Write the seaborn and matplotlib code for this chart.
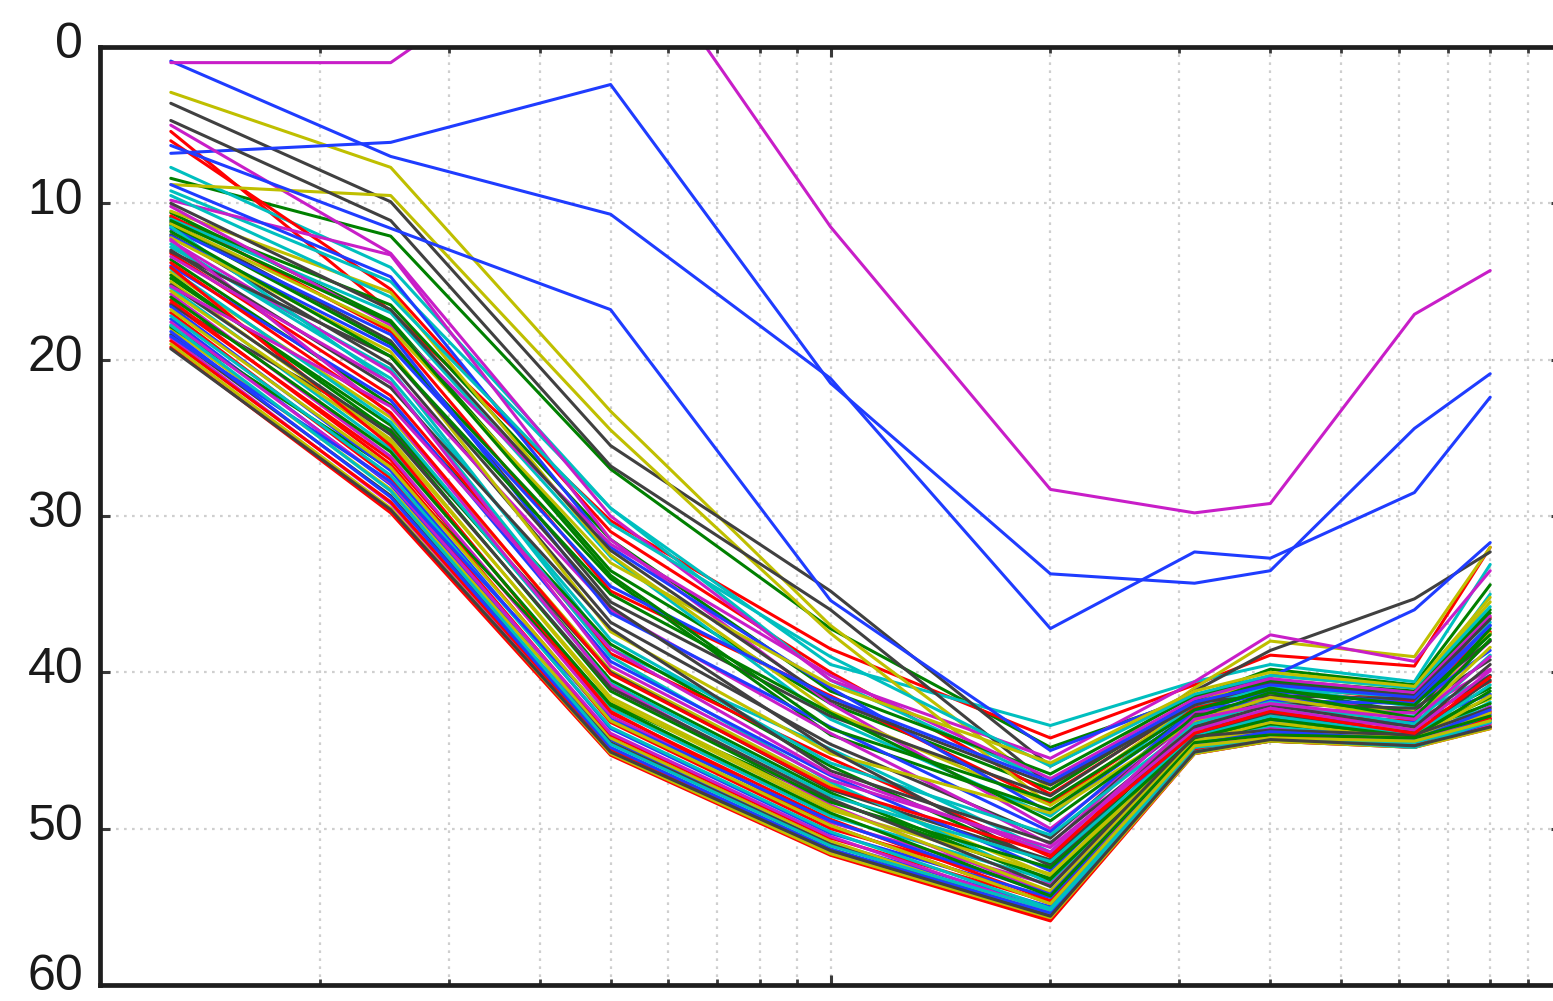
import matplotlib
matplotlib.use("Agg")
import matplotlib.pyplot as plt
import matplotlib.transforms as mtransforms
from matplotlib.ticker import LogLocator, NullFormatter, FixedLocator
import pandas as pd
import seaborn as sns

# ---------------- data ----------------
freqs = [1.25, 2.5, 5, 10, 20, 31.5, 40, 63, 80]
y_ticks = [0, 10, 20, 30, 40, 50, 60]

# distinct curves (plot order matters for the colour cycle)
blue_a      = [0.9, 7.0, 10.7, 21.2, 37.2, 32.3, 32.7, 28.5, 22.4]
green_hi    = [8.4, 12.1, 27.0, 37.2, 44.8, 41.6, 39.8, 40.8, 34.4]
red_hi      = [5.4, 16.9, 30.3, 38.5, 44.2, 40.8, 38.9, 39.6, 32.0]
cyan_hi     = [7.7, 14.1, 29.5, 39.5, 43.4, 40.6, 39.5, 40.6, 33.1]
magenta_top = [1.0, 1.0, -8.8, 11.5, 28.3, 29.8, 29.2, 17.1, 14.3]
yellow_hi   = [2.9, 7.7, 23.3, 37.0, 47.5, 41.0, 38.0, 39.0, 32.0]
grey_hi     = [3.6, 9.9, 25.5, 34.8, 46.0, 41.2, 38.6, 35.3, 32.3]
blue_b      = [6.8, 6.1, 2.4, 21.5, 33.7, 34.3, 33.5, 24.4, 20.9]
green_2     = [10.6, 17.5, 33.5, 42.0, 47.5, 41.8, 40.6, 41.4, 36.2]
red_2       = [6.0, 15.5, 31.0, 40.0, 47.8, 42.0, 40.8, 41.8, 36.5]
cyan_2      = [9.2, 15.0, 29.5, 40.5, 47.0, 42.2, 41.0, 41.6, 35.0]
magenta_hi  = [5.0, 13.2, 30.0, 40.5, 45.5, 40.6, 37.6, 39.3, 33.5]
yellow_2    = [8.8, 9.5, 24.5, 37.5, 48.5, 42.0, 40.2, 41.0, 35.5]
grey_2      = [4.7, 11.1, 26.8, 36.0, 47.2, 42.0, 40.8, 41.5, 37.5]
blue_c      = [6.3, 11.6, 16.8, 35.4, 45.0, 41.5, 40.3, 36.0, 31.7]
green_3     = [10.9, 16.5, 31.5, 41.2, 46.5, 41.5, 40.5, 41.2, 36.0]
red_3       = [10.8, 18.2, 34.8, 41.5, 48.4, 42.3, 41.2, 41.9, 37.4]
cyan_3      = [11.0, 17.0, 32.6, 43.0, 49.2, 42.0, 40.9, 42.2, 36.8]
magenta_3   = [9.8, 13.3, 31.5, 42.0, 50.0, 43.0, 41.5, 42.5, 38.0]
yellow_3    = [10.5, 15.7, 32.5, 42.5, 48.5, 42.8, 41.8, 42.5, 37.5]
grey_3      = [11.2, 18.8, 35.5, 42.8, 47.9, 41.9, 41.5, 41.7, 38.0]
blue_d      = [8.8, 14.7, 32.0, 41.0, 49.0, 42.5, 41.2, 42.0, 37.0]

# dense band of curves
band_a = [
    [11.4, 19.0, 34.0, 44.0, 48.8, 42.6, 41.0, 42.6, 37.2],
    [16.4, 26.4, 42.6, 49.4, 54.6, 44.6, 44.1, 44.3, 43.0],
    [12.8, 20.6, 38.5, 44.9, 51.5, 43.0, 42.5, 42.8, 40.2],
    [18.6, 29.2, 45.0, 51.5, 55.7, 45.2, 44.4, 44.8, 43.4],
    [14.4, 23.7, 39.9, 47.2, 53.0, 43.8, 43.3, 43.6, 41.7],
    [12.0, 20.3, 36.8, 44.6, 50.6, 42.7, 42.0, 42.3, 39.2],
    [17.4, 28.0, 44.3, 50.9, 55.0, 45.0, 44.1, 44.8, 43.0],
    [13.6, 22.9, 38.2, 46.0, 52.3, 43.4, 42.9, 43.4, 41.0],
    [19.2, 29.8, 45.3, 51.7, 55.9, 45.2, 44.4, 44.8, 43.6],
    [15.4, 25.7, 42.3, 49.2, 53.3, 44.5, 43.4, 44.4, 41.9],
    [12.4, 20.8, 36.0, 43.9, 51.0, 42.5, 42.3, 42.6, 39.8],
    [18.0, 28.3, 44.2, 50.8, 55.5, 45.0, 44.4, 44.7, 43.4],
    [16.5, 24.5, 40.0, 47.5, 52.0, 43.5, 42.6, 43.4, 40.2],
    [11.6, 18.4, 36.2, 43.5, 50.2, 42.4, 41.8, 42.0, 38.6],
    [14.8, 24.2, 40.5, 47.7, 53.4, 44.0, 43.5, 43.8, 42.0],
    [17.0, 27.6, 44.0, 50.6, 54.7, 45.0, 44.0, 44.7, 42.9],
]
band_b = [
    [13.2, 22.3, 38.8, 45.5, 51.8, 43.2, 42.7, 43.1, 40.6],
    [11.5, 21.5, 39.0, 47.0, 53.5, 44.6, 43.5, 44.2, 42.2],
    [15.8, 26.2, 42.8, 49.6, 53.6, 44.7, 43.6, 44.5, 42.2],
    [12.2, 19.5, 37.4, 45.2, 49.0, 43.1, 41.6, 43.0, 38.4],
    [18.4, 28.7, 44.5, 51.0, 55.6, 45.1, 44.4, 44.7, 43.5],
    [14.0, 22.6, 39.3, 46.6, 52.7, 43.6, 43.1, 43.2, 41.4],
    [17.9, 27.0, 42.0, 48.2, 53.2, 44.2, 43.3, 44.0, 41.6],
    [16.2, 26.7, 43.2, 50.0, 54.0, 44.8, 43.7, 44.6, 42.5],
    [12.6, 21.2, 37.9, 45.8, 50.4, 43.3, 41.9, 43.3, 38.9],
    [17.6, 27.9, 43.9, 50.5, 55.3, 44.9, 44.3, 44.6, 43.3],
    [15.0, 25.1, 41.8, 48.8, 52.9, 44.4, 43.2, 44.3, 41.5],
    [13.1, 19.8, 35.8, 45.0, 52.4, 44.0, 42.6, 43.9, 40.5],
    [16.6, 27.1, 43.6, 50.3, 54.4, 44.9, 43.9, 44.7, 42.7],
    [11.8, 19.8, 35.0, 42.6, 49.5, 42.9, 41.3, 42.9, 37.9],
    [18.8, 29.1, 44.9, 51.3, 55.8, 45.1, 44.3, 44.7, 43.5],
    [14.2, 24.0, 40.7, 47.9, 52.1, 44.1, 42.8, 44.0, 40.8],
]
band_c = [
    [12.3, 23.5, 40.8, 48.5, 54.2, 44.8, 43.9, 44.5, 42.6],
    [15.6, 25.3, 41.6, 48.6, 54.0, 44.3, 43.8, 44.1, 42.6],
    [13.0, 21.8, 37.2, 46.3, 50.9, 43.5, 42.1, 43.5, 39.5],
    [18.2, 28.8, 44.8, 51.3, 55.4, 45.1, 44.3, 44.8, 43.2],
    [14.6, 24.6, 41.2, 48.3, 52.5, 44.2, 43.0, 44.1, 41.2],
    [14.1, 25.5, 42.5, 49.8, 54.8, 45.0, 44.1, 44.6, 43.0],
    [17.2, 27.4, 43.5, 50.2, 55.1, 44.8, 44.3, 44.5, 43.2],
    [13.4, 21.5, 39.6, 46.9, 51.2, 43.7, 42.3, 43.7, 39.9],
    [19.0, 29.5, 45.2, 51.6, 55.7, 45.2, 44.4, 44.8, 43.6],
    [15.2, 24.8, 41.0, 48.1, 53.7, 44.1, 43.7, 44.0, 42.3],
    [18.5, 27.8, 43.0, 49.5, 54.2, 44.6, 43.8, 44.3, 42.4],
    [16.0, 25.9, 42.1, 49.0, 54.3, 44.5, 44.0, 44.2, 42.8],
    [13.8, 23.4, 40.1, 47.4, 51.6, 43.9, 42.5, 43.9, 40.3],
    [17.8, 28.4, 44.6, 51.1, 55.2, 45.1, 44.2, 44.8, 43.1],
    [15.3, 23.0, 38.5, 46.5, 51.5, 43.0, 42.0, 43.0, 39.0],
    [16.8, 26.9, 43.1, 49.8, 54.8, 44.7, 44.2, 44.4, 43.1],
    [19.3, 29.6, 45.1, 51.4, 55.6, 45.1, 44.3, 44.7, 43.5],
]
band_d = [
    [9.5, 16.0, 30.5, 39.0, 46.0, 41.4, 40.2, 41.0, 35.8],
    [10.2, 17.8, 31.8, 40.2, 46.8, 41.7, 40.4, 41.3, 36.4],
    [11.3, 18.0, 33.0, 40.8, 45.8, 41.2, 40.0, 40.9, 35.2],
    [10.0, 16.8, 32.2, 41.8, 47.2, 42.1, 40.7, 41.5, 36.6],
    [12.1, 19.2, 34.5, 41.6, 47.0, 41.9, 40.8, 41.6, 37.0],
    [11.1, 17.6, 33.8, 43.6, 48.2, 42.4, 41.1, 42.1, 37.6],
]

distinct = [blue_a, green_hi, red_hi, cyan_hi, magenta_top, yellow_hi, grey_hi,
            blue_b, green_2, red_2, cyan_2, magenta_hi, yellow_2, grey_2,
            blue_c, green_3, red_3, cyan_3, magenta_3, yellow_3, grey_3,
            blue_d]
all_curves = distinct + band_a + band_d + band_b + band_c

# MATLAB-like colour order: b, g, r, c, m, y, k
color_order = ["#1f3cff", "#008000", "#ff0000", "#00bfbf",
               "#c81ec8", "#bfbf00", "#404040"]

rows = []
for i, curve in enumerate(all_curves):
    for f, v in zip(freqs, curve):
        rows.append({"curve": f"c{i:03d}", "freq": f, "level": v})
df = pd.DataFrame(rows)
palette = [color_order[i % len(color_order)] for i in range(len(all_curves))]

# ---------------- plot ----------------
sns.set_theme(style="white")
plt.rcParams["font.family"] = ["Liberation Sans", "DejaVu Sans"]

W, H = 1553, 1001
fig = plt.figure(figsize=(W / 100, H / 100), dpi=100)
left_px, right_px, top_px, bottom_px = 100, 1561, 47, 985
ax = fig.add_axes([left_px / W, 1 - bottom_px / H,
                   (right_px - left_px) / W, (bottom_px - top_px) / H])

sns.lineplot(data=df, x="freq", y="level", hue="curve", palette=palette,
             estimator=None, sort=False, legend=False, linewidth=2.2, ax=ax)

ax.set_xscale("log")
ax.set_xlim(1, 100)
ax.set_ylim(60, 0)
ax.set_xlabel("")
ax.set_ylabel("")

ax.xaxis.set_major_locator(LogLocator(base=10, numticks=10))
ax.xaxis.set_minor_locator(LogLocator(base=10, subs=list(range(2, 10)), numticks=30))
ax.xaxis.set_minor_formatter(NullFormatter())
ax.yaxis.set_major_locator(FixedLocator(y_ticks))
ax.set_yticks(y_ticks)
ax.set_yticklabels([str(t) for t in y_ticks])

grid_kw = dict(color="#cfcfcf", linestyle=(0, (1.2, 2.4)), linewidth=1.6)
ax.grid(True, which="major", axis="both", **grid_kw)
ax.grid(True, which="minor", axis="x", **grid_kw)
ax.set_axisbelow(True)

for sp in ax.spines.values():
    sp.set_visible(True)
    sp.set_linewidth(3.4)
    sp.set_color("#1e1e1e")

ax.tick_params(which="both", direction="in", top=True, right=True,
               bottom=True, left=True, labelbottom=False, labeltop=False,
               labelright=False, color="#3a3a3a")
ax.tick_params(which="major", length=7, width=2.2)
ax.tick_params(which="minor", length=4, width=2.0)
ax.tick_params(axis="y", labelsize=36, pad=12, labelcolor="#1a1a1a")

labels = ax.get_yticklabels()
for lab in labels:
    shift = 9 if lab.get_text() == "60" else 5
    lab.set_transform(lab.get_transform() +
                      mtransforms.ScaledTranslation(0, shift / 72, fig.dpi_scale_trans))

fig.savefig("out.png", dpi=100)
